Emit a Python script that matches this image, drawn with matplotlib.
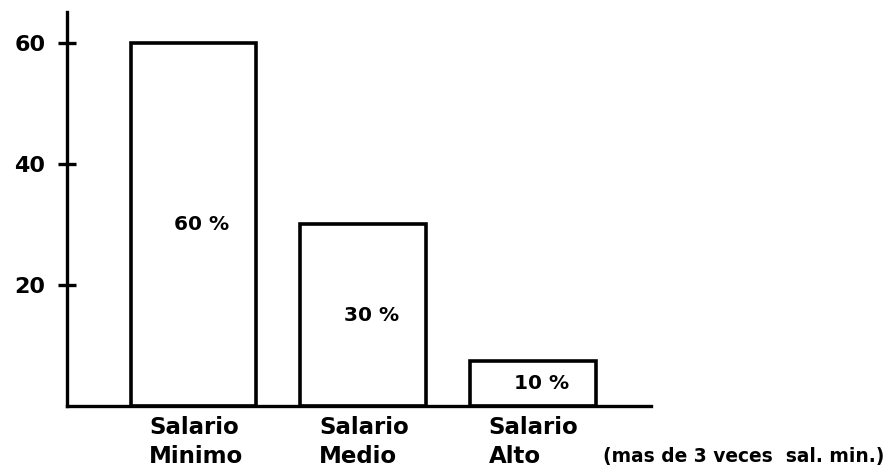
import matplotlib
matplotlib.use("Agg")
import matplotlib.pyplot as plt

categories = ["Salario\nMinimo", "Salario\nMedio", "Salario\nAlto"]
line1 = ["Salario", "Salario", "Salario"]
line2 = ["Minimo", "Medio", "Alto"]
values = [60, 30, 7.5]
bar_labels = ["60 %", "30 %", "10 %"]
yticks = [20, 40, 60]
ytick_labels = ["20", "40", "60"]
note = "(mas de 3 veces  sal. min.)"

fig = plt.figure(figsize=(8.88, 4.69), dpi=100)
ax = fig.add_axes([67/888, (469-406)/469, (651-67)/888, (406-12)/469])

x = list(range(len(values)))
ax.bar(x, values, width=0.74, color="white", edgecolor="black", linewidth=2.6, zorder=2)

ax.set_xlim(-0.745, 2.695)
ax.set_ylim(0, 65.1)

for s in ["top", "right"]:
    ax.spines[s].set_visible(False)
for s in ["left", "bottom"]:
    ax.spines[s].set_linewidth(2.4)

ax.set_xticks([])
ax.set_yticks(yticks)
ax.set_yticklabels(ytick_labels, fontsize=16, fontweight="bold", family="DejaVu Sans")
ax.tick_params(axis="y", direction="inout", length=13, width=2.4, pad=9)

for i, (v, lab) in enumerate(zip(values, bar_labels)):
    ax.text(i + 0.05, v / 2, lab, ha="center", va="center", fontsize=14.5,
            fontweight="bold", zorder=3)

for i, (a, b) in enumerate(zip(line1, line2)):
    ax.text(i - 0.26, -3.5, a, ha="left", va="center", fontsize=16.5,
            fontweight="bold", clip_on=False)
    ax.text(i - 0.26, -8.4, b, ha="left", va="center", fontsize=16.5,
            fontweight="bold", clip_on=False)

ax.text(2.41, -8.4, note, ha="left", va="center", fontsize=13.4,
        fontweight="bold", clip_on=False)

fig.savefig("out.png", dpi=100, facecolor="white")
